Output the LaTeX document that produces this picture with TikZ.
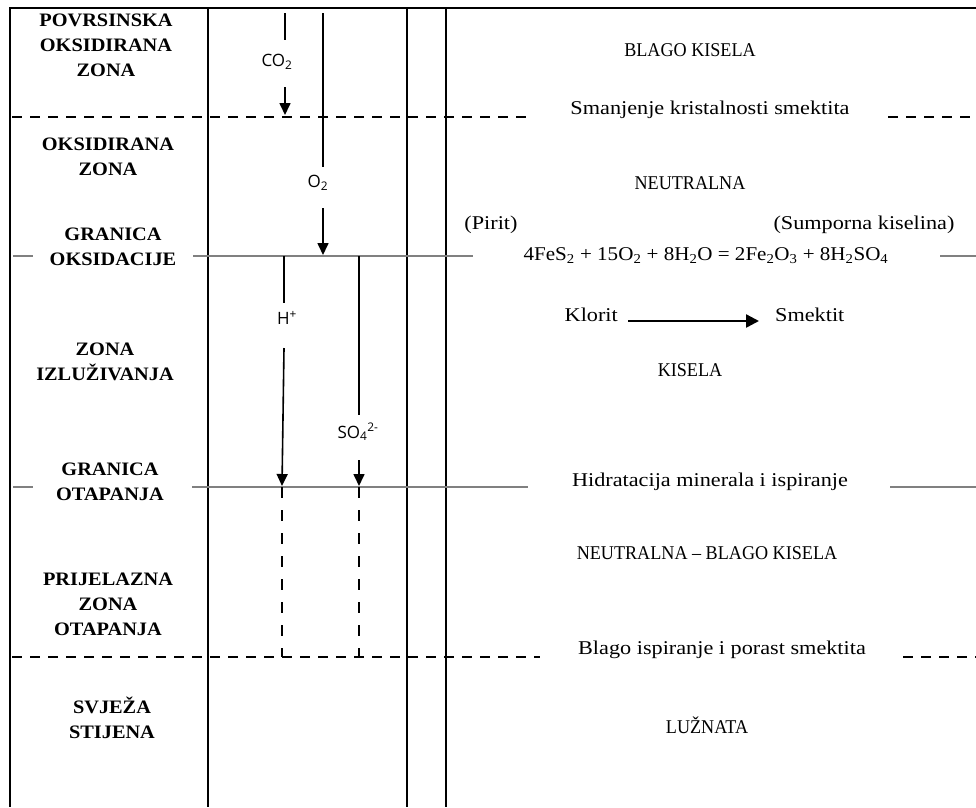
\documentclass[tikz,border=0pt]{standalone}
\usepackage{fontspec}
\setmainfont{Liberation Serif}
\newfontfamily\zonef[FakeStretch=1.07]{Liberation Serif}
\newfontfamily\slabf[FakeStretch=0.93]{Liberation Serif}
\newfontfamily\slabw[FakeStretch=1.14]{Liberation Serif}
\newfontfamily\slabe[FakeStretch=1.08]{Liberation Serif}
\newfontfamily\ionf{Open Sans}
\usetikzlibrary{arrows.meta}
\begin{document}
\begin{tikzpicture}[x=1pt,y=-1pt,
  frame/.style={line width=2pt},
  zdash/.style={line width=2pt, dash pattern=on 10pt off 8pt},
  gline/.style={line width=1.4pt, draw=black!50},
  flow/.style={line width=1.6pt},
  flowtip/.style={line width=1.6pt, -{Triangle[length=12pt,width=11pt]}},
  vdash/.style={line width=1.6pt, dash pattern=on 11pt off 12pt},
  zone/.style={font=\zonef\bfseries\fontsize{19}{25}\selectfont, align=center, inner sep=0pt},
  rt/.style={font=\slabf\fontsize{19.5}{22}\selectfont, inner sep=0pt},
  rtw/.style={font=\slabw\fontsize{19.5}{22}\selectfont, inner sep=0pt},
  rte/.style={font=\slabe\fontsize{19.5}{22}\selectfont, inner sep=0pt},
  ion/.style={font=\ionf\fontsize{17}{19}\selectfont, inner sep=0pt}]
\useasboundingbox (0,0) rectangle (976,807);
\fill[white] (0,0) rectangle (976,807);

% frame and columns
\coordinate (tl) at (10,8);   \coordinate (tr) at (976,8);
\coordinate (bl) at (10,807);
\draw[frame] (tr) -- (tl) -- (bl);
\foreach \x/\n in {208/c1,407/c2,446/c3}{
  \coordinate (\n t) at (\x,8); \coordinate (\n b) at (\x,807);
  \draw[frame] (\n t) -- (\n b);
}

% boundary lines
\coordinate (d1a) at (12,117); \coordinate (d1b) at (530,117);
\coordinate (d1c) at (888,117); \coordinate (d1d) at (976,117);
\draw[zdash] (d1a) -- (d1b); \draw[zdash] (d1c) -- (d1d);

\coordinate (g1a) at (13,256); \coordinate (g1b) at (33,256);
\coordinate (g1c) at (193,256); \coordinate (g1d) at (473,256);
\coordinate (g1e) at (940,256); \coordinate (g1f) at (976,256);
\draw[gline] (g1a) -- (g1b); \draw[gline] (g1c) -- (g1d); \draw[gline] (g1e) -- (g1f);

\coordinate (g2a) at (13,487); \coordinate (g2b) at (33,487);
\coordinate (g2c) at (192,487); \coordinate (g2d) at (528,487);
\coordinate (g2e) at (890,487); \coordinate (g2f) at (976,487);
\draw[gline] (g2a) -- (g2b); \draw[gline] (g2c) -- (g2d); \draw[gline] (g2e) -- (g2f);

\coordinate (d2a) at (12,657); \coordinate (d2b) at (540,657);
\coordinate (d2c) at (903,657); \coordinate (d2d) at (976,657);
\draw[zdash] (d2a) -- (d2b); \draw[zdash] (d2c) -- (d2d);

% zone names
\node[zone] (z1) at (106,45) {POVRSINSKA\\OKSIDIRANA\\ZONA};
\node[zone] (z2) at (108,157) {OKSIDIRANA\\ZONA};
\node[zone] (z3) at (113,247) {GRANICA\\OKSIDACIJE};
\node[zone] (z4) at (105,362) {ZONA\\IZLUŽIVANJA};
\node[zone] (z5) at (110,482) {GRANICA\\OTAPANJA};
\node[zone] (z6) at (108,604) {PRIJELAZNA\\ZONA\\OTAPANJA};
\node[zone] (z7) at (112,718) {SVJEŽA\\STIJENA};

% CO2
\coordinate (co2a) at (285,13); \coordinate (co2b) at (285,40);
\node[ion] (co2) at (277,62) {CO\textsubscript{2}};
\coordinate (co2c) at (285,87); \coordinate (co2d) at (285,115);
\draw[flow] (co2a) -- (co2b); \draw[flowtip] (co2c) -- (co2d);

% O2
\coordinate (o2a) at (323,13); \coordinate (o2b) at (323,167);
\node[ion] (o2) at (318,183) {O\textsubscript{2}};
\coordinate (o2c) at (323,208); \coordinate (o2d) at (323,255);
\draw[flow] (o2a) -- (o2b); \draw[flowtip] (o2c) -- (o2d);

% H+
\coordinate (ha) at (284,256); \coordinate (hb) at (284,303);
\node[ion] (hp) at (287,318) {H\textsuperscript{+}};
\coordinate (hc) at (284,348); \coordinate (hd) at (282,486);
\coordinate (he) at (282,487); \coordinate (hf) at (282,657);
\draw[flow] (ha) -- (hb); \draw[flowtip] (hc) -- (hd);
\draw[vdash] (he) -- (hf);

% SO4 2-
\coordinate (sa) at (359,256); \coordinate (sb) at (359,415);
\node[ion] (so4) at (358,432) {SO\textsubscript{4}\textsuperscript{2-}};
\coordinate (sc) at (359,460); \coordinate (sd) at (359,486);
\coordinate (se) at (359,487); \coordinate (sf) at (359,657);
\draw[flow] (sa) -- (sb); \draw[flowtip] (sc) -- (sd);
\draw[vdash] (se) -- (sf);

% right column texts
\node[rt] (n1) at (690,50) {BLAGO KISELA};
\node[rtw] (s1) at (710,110) {Smanjenje kristalnosti smektita};
\node[rt] (n2) at (690,183) {NEUTRALNA};
\node[rtw] (pir) at (491,225) {(Pirit)};
\node[rtw] (sum) at (864,225) {(Sumporna kiselina)};
\node[rte] (eq) at (706,256) {4FeS\textsubscript{2} + 15O\textsubscript{2} + 8H\textsubscript{2}O = 2Fe\textsubscript{2}O\textsubscript{3} + 8H\textsubscript{2}SO\textsubscript{4}};
\node[rtw, anchor=east] (klo) at (618,315) {Klorit};
\node[rtw, anchor=west] (sme) at (775,315) {Smektit};
\coordinate (ka) at (628,321); \coordinate (kb) at (759,321);
\draw[line width=2.4pt, -{Triangle[length=13pt,width=13pt]}] (ka) -- (kb);
\node[rt] (kis) at (690,370) {KISELA};
\node[rtw] (hid) at (710,482) {Hidratacija minerala i ispiranje};
\node[rt] (nbk) at (707,553) {NEUTRALNA – BLAGO KISELA};
\node[rtw] (bla) at (722,650) {Blago ispiranje i porast smektita};
\node[rt] (luz) at (707,725) {LUŽNATA};
\end{tikzpicture}
\end{document}
